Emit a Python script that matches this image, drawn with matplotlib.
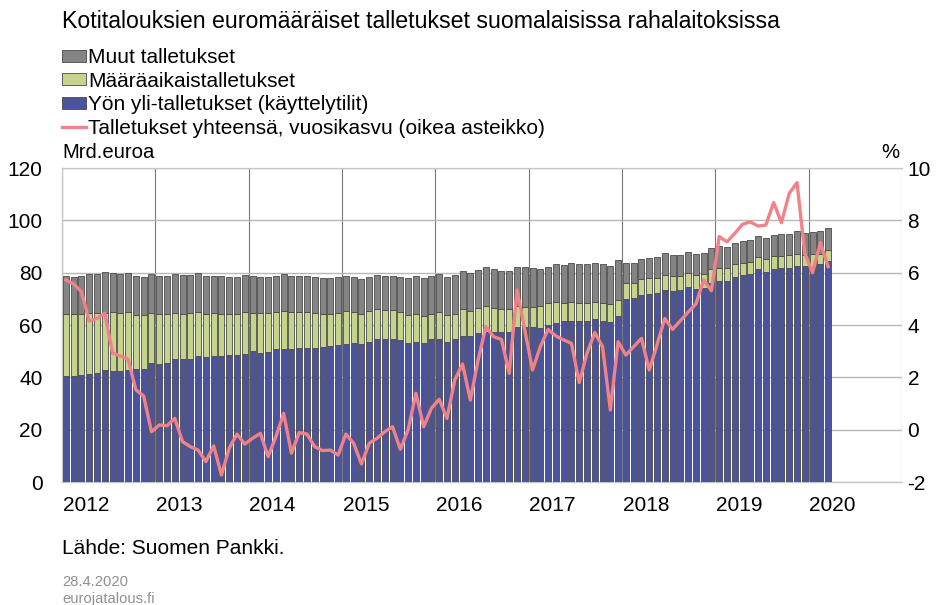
import matplotlib
matplotlib.use("Agg")
import matplotlib.pyplot as plt
from matplotlib.patches import Patch
from matplotlib.lines import Line2D
import numpy as np

plt.rcParams['font.family'] = ['Liberation Sans', 'DejaVu Sans']
plt.rcParams['axes.unicode_minus'] = False

# Monthly data Jan 2012 .. Mar 2020 (billion euro / %)
yon_yli = [40.5, 40.5, 40.8, 41.3, 41.8, 42.7, 42.3, 42.5, 42.9, 43.1, 43.3, 45.6,
           45.2, 45.5, 47.1, 47.0, 47.1, 48.2, 47.6, 48.0, 48.2, 48.5, 48.5, 49.0,
           49.9, 49.4, 49.6, 50.8, 51.0, 51.0, 51.1, 51.2, 51.3, 51.5, 52.0, 52.2,
           52.7, 53.2, 52.6, 53.5, 54.6, 54.5, 54.5, 54.4, 53.0, 53.5, 53.0, 54.5,
           54.6, 53.6, 54.5, 55.9, 55.8, 57.1, 57.3, 57.3, 57.2, 57.3, 59.1, 59.4,
           59.1, 59.0, 59.9, 60.9, 61.4, 61.5, 61.7, 61.7, 62.3, 61.4, 61.3, 63.6,
           69.8, 70.3, 71.3, 71.8, 72.4, 73.5, 73.1, 73.4, 74.4, 73.6, 74.0, 75.9,
           76.8, 76.9, 78.5, 79.0, 79.5, 81.3, 80.3, 81.4, 81.9, 81.8, 82.7, 82.4,
           82.0, 83.4, 84.5]
maaraaika = [23.8, 23.7, 23.5, 23.3, 22.8, 22.0, 22.5, 22.1, 22.1, 20.8, 20.4, 19.1,
             19.0, 18.7, 17.5, 17.3, 17.4, 16.9, 16.7, 16.5, 16.1, 15.6, 15.8, 16.0,
             14.8, 15.2, 15.0, 14.0, 14.2, 14.1, 13.9, 13.8, 13.3, 12.7, 12.2, 12.5,
             12.7, 11.6, 11.6, 11.9, 11.4, 11.1, 11.1, 10.7, 10.7, 10.8, 10.4, 9.7,
             10.4, 10.1, 9.7, 10.1, 9.7, 9.5, 10.1, 9.1, 8.9, 8.7, 8.3, 7.6,
             7.9, 8.3, 8.4, 8.0, 7.1, 7.4, 6.8, 6.6, 6.6, 6.9, 6.6, 6.0,
             6.4, 5.9, 6.2, 6.0, 5.6, 5.7, 5.8, 5.5, 5.3, 5.6, 5.5, 5.5,
             5.1, 4.9, 4.8, 4.8, 4.6, 4.6, 5.1, 5.0, 4.6, 4.8, 4.4, 4.5,
             5.0, 3.6, 4.2]
muut = [14.6, 14.3, 14.6, 14.9, 14.8, 15.4, 15.1, 14.8, 14.9, 15.0, 14.6, 14.7,
        14.5, 14.5, 14.8, 14.8, 14.7, 14.6, 14.4, 14.4, 14.4, 14.2, 14.0, 14.0,
        14.0, 13.9, 13.9, 14.1, 14.3, 13.8, 13.9, 13.9, 13.6, 13.6, 13.6, 13.5,
        13.3, 13.5, 13.4, 12.9, 13.1, 13.3, 13.3, 13.2, 14.3, 14.6, 14.7, 14.7,
        14.6, 14.8, 14.8, 14.5, 14.5, 14.4, 14.6, 14.9, 14.7, 14.6, 14.6, 15.0,
        14.7, 14.0, 13.7, 14.5, 14.4, 14.8, 14.8, 15.0, 14.9, 14.9, 14.8, 15.2,
        7.4, 7.6, 7.6, 7.7, 7.9, 8.2, 7.9, 8.0, 8.1, 7.8, 7.9, 7.9,
        8.3, 7.9, 8.2, 8.4, 8.4, 8.1, 7.8, 8.0, 8.1, 8.2, 8.7, 8.4,
        8.4, 9.1, 8.4]
vuosikasvu = [5.72, 5.57, 5.27, 4.15, 4.25, 4.45, 2.92, 2.82, 2.69, 1.52, 1.29, -0.08,
              0.18, 0.15, 0.43, -0.46, -0.65, -0.78, -1.22, -0.62, -1.73, -0.71, -0.17, -0.55,
              -0.33, -0.14, -1.03, -0.27, 0.62, -0.90, -0.11, -0.17, -0.65, -0.80, -0.78, -0.97,
              -0.17, -0.52, -1.31, -0.52, -0.33, -0.08, 0.11, -0.75, -0.01, 1.39, 0.11, 0.82,
              1.16, 0.43, 1.90, 2.51, 1.13, 2.66, 3.94, 3.55, 3.45, 2.15, 5.34, 3.81,
              2.28, 3.17, 3.83, 3.58, 3.43, 3.30, 1.80, 2.92, 3.71, 3.17, 0.75, 3.36,
              2.85, 3.17, 3.49, 2.28, 3.24, 4.25, 3.83, 4.16, 4.49, 4.80, 5.72, 5.31,
              7.38, 7.18, 7.50, 7.85, 7.94, 7.78, 7.82, 8.68, 7.91, 9.03, 9.44, 6.74,
              6.00, 7.15, 6.23]
years = ['2012', '2013', '2014', '2015', '2016', '2017', '2018', '2019', '2020']

labels = ['Muut talletukset', 'Määräaikaistalletukset',
          'Yön yli-talletukset (käyttelytilit)',
          'Talletukset yhteensä, vuosikasvu (oikea asteikko)']

c_blue = '#4b529e'
c_green = '#c6d38a'
c_gray = '#848484'
c_edge = '#4a4a4a'
c_line = '#f08289'

W, H = 943, 605
fig = plt.figure(figsize=(W / 100, H / 100), dpi=100)
ax = fig.add_axes([62 / W, 1 - 482 / H, (902 - 62) / W, (482 - 168) / H])

n = len(yon_yli)
x = np.arange(n) + 0.5
b1 = np.array(yon_yli)
b2 = np.array(maaraaika)
b3 = np.array(muut)
bw = 0.78
ax.bar(x, b1, width=bw, color=c_blue, edgecolor=c_edge, linewidth=0.6, zorder=3)
ax.bar(x, b2, width=bw, bottom=b1, color=c_green, edgecolor=c_edge, linewidth=0.6, zorder=3)
ax.bar(x, b3, width=bw, bottom=b1 + b2, color=c_gray, edgecolor=c_edge, linewidth=0.6, zorder=3)

ax.set_xlim(0, 108)
ax.set_ylim(0, 120)
ax.set_yticks(np.arange(0, 121, 20))
ax.set_xticks(np.arange(0, 109, 12))
ax.set_xticklabels([])
ax.grid(axis='y', color='#b8b8b8', linewidth=1.0, zorder=0)
ax.grid(axis='x', color='#7a7a7a', linewidth=0.8, zorder=0)
ax.tick_params(axis='both', length=0, labelsize=15, pad=14)
for s in ax.spines.values():
    s.set_color('#c8c8c8')
    s.set_linewidth(1.0)
ax.spines['right'].set_visible(False)

for i, yl in enumerate(years):
    ax.text(i * 12 + 0.1, -5.3, yl, ha='left', va='top', fontsize=15)

ax2 = ax.twinx()
ax2.plot(x, vuosikasvu, color=c_line, linewidth=2.4, zorder=5, solid_joinstyle='round')
ax2.set_ylim(-2, 10)
ax2.set_yticks(np.arange(-2, 11, 2))
ax2.tick_params(axis='y', length=0, labelsize=15, pad=4)
for s in ax2.spines.values():
    s.set_visible(False)

fig.text(62 / W, 1 - 22 / H, 'Kotitalouksien euromääräiset talletukset suomalaisissa rahalaitoksissa',
         ha='left', va='center', fontsize=16.7)
fig.text(62 / W, 1 - 153 / H, 'Mrd.euroa', ha='left', va='center', fontsize=14.6)
fig.text(899 / W, 1 - 153 / H, '%', ha='right', va='center', fontsize=14.6)

handles = [Patch(facecolor=c_gray, edgecolor=c_edge, linewidth=0.6),
           Patch(facecolor=c_green, edgecolor=c_edge, linewidth=0.6),
           Patch(facecolor=c_blue, edgecolor=c_edge, linewidth=0.6),
           Line2D([0], [0], color=c_line, linewidth=2.4)]
fig.legend(handles, labels, loc='upper left', bbox_to_anchor=(62 / W, 1 - 48 / H),
           frameon=False, fontsize=15, handlelength=1.15, handleheight=0.5,
           handletextpad=0.12, labelspacing=0.22, borderpad=0, borderaxespad=0)

fig.text(62 / W, 1 - 548 / H, 'Lähde: Suomen Pankki.', ha='left', va='center', fontsize=15)
fig.text(62 / W, 1 - 582 / H, '28.4.2020', ha='left', va='center', fontsize=10.6, color='#909090')
fig.text(62 / W, 1 - 599 / H, 'eurojatalous.fi', ha='left', va='center', fontsize=10.6, color='#909090')

fig.savefig('out.png', dpi=100)
